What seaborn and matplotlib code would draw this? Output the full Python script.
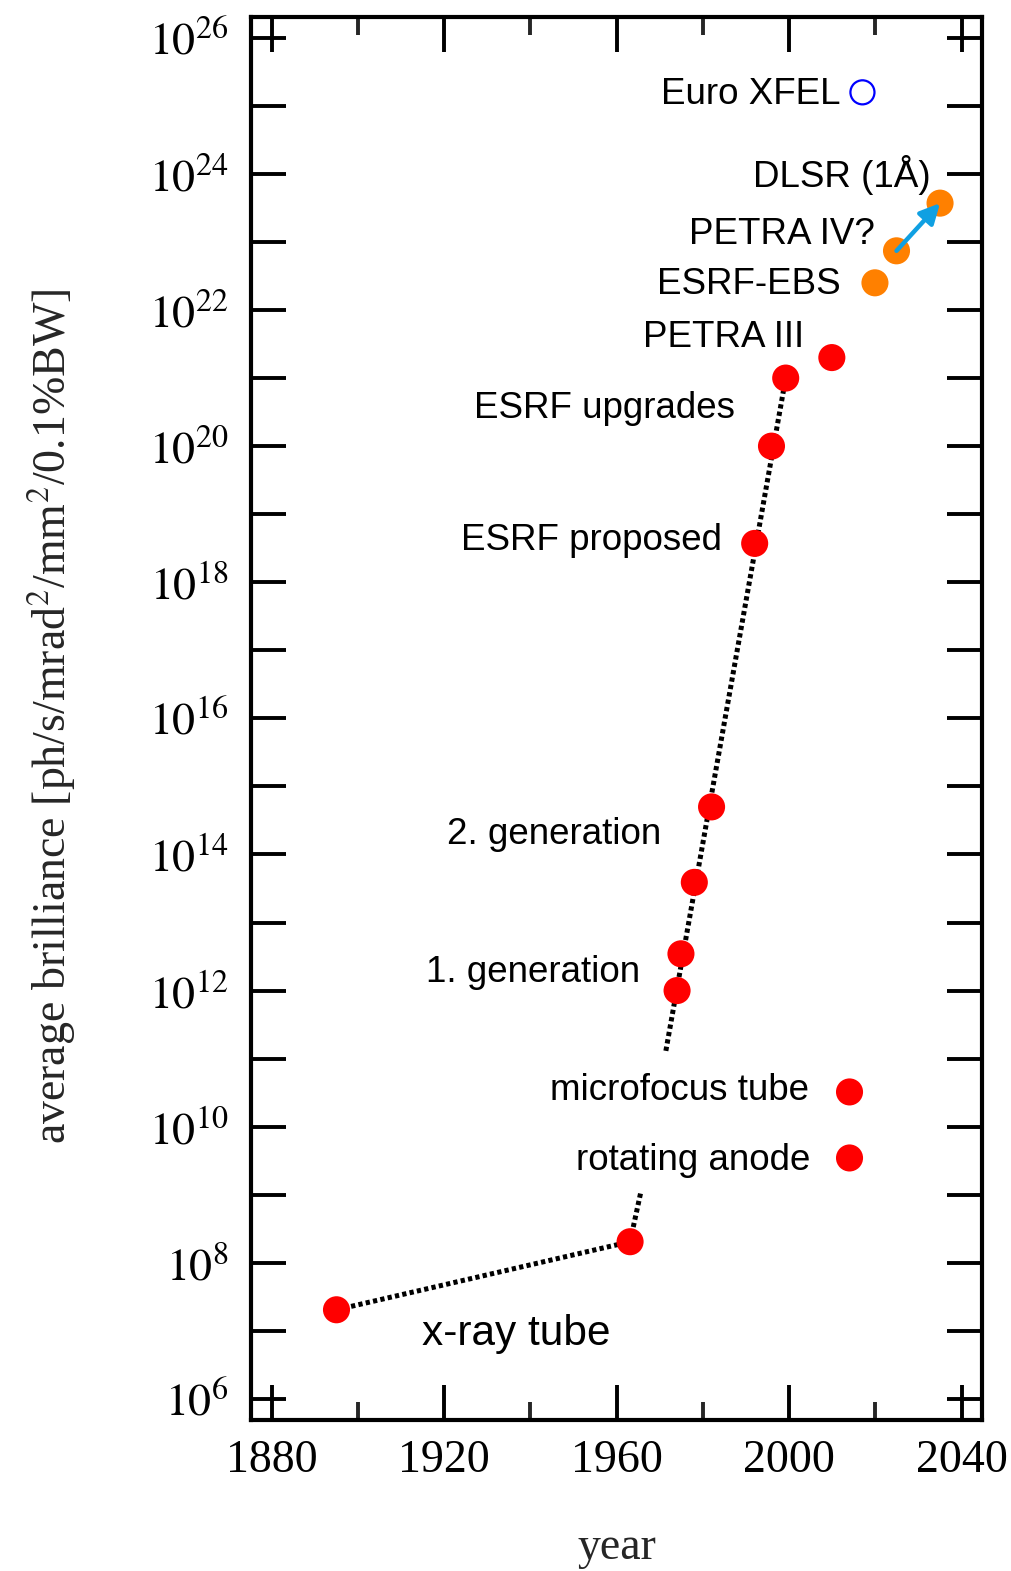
import numpy as np
import pandas as pd
import matplotlib
matplotlib.use("Agg")
import matplotlib.pyplot as plt
import matplotlib.ticker as mticker
import seaborn as sns

# ---------------- data ----------------
point_year = [1895.0, 1963.1, 1974.0, 1974.9, 1978.0, 1982.0, 1992.0, 1995.9,
              1999.2, 2009.9, 2014.0, 2014.0, 2019.9, 2024.9, 2035.0, 2017.0]
point_brilliance = [2.04e7, 2.04e8, 1.0e12, 3.47e12, 3.89e13, 5.0e14, 3.72e18, 1.0e20,
                    1.0e21, 2.0e21, 3.24e10, 3.47e9, 2.51e22, 7.41e22, 3.72e23, 1.58e25]
point_kind = ["existing"] * 12 + ["future"] * 3 + ["xfel"]

tube_line_year = [1895.0, 1963.1]
tube_line_brilliance = [2.04e7, 2.04e8]
anode_line_year = [1963.1, 1965.6]
anode_line_brilliance = [2.04e8, 1.1e9]
sync_line_year = [1971.4, 1999.2]
sync_line_brilliance = [1.3e11, 1.0e21]

arrow_from = (2024.9, 7.41e22)
arrow_to = (2035.0, 3.72e23)

label_text = ["Euro XFEL", "DLSR (1Å)", "PETRA IV?", "ESRF-EBS", "PETRA III",
              "ESRF upgrades", "ESRF proposed", "2. generation", "1. generation",
              "microfocus tube", "rotating anode"]
label_year = [2011.9, 2032.8, 2019.8, 2011.9, 2003.5, 1987.5, 1984.5, 1970.3,
              1965.4, 2004.5, 2004.9]
label_brilliance = [10**25.16, 10**23.98, 10**23.11, 10**22.38, 10**21.59, 10**20.56,
                    10**18.61, 10**14.29, 10**12.27, 10**10.53, 10**9.51]

xray_label = "x-ray tube"
xray_label_pos = (1936.8, 10**6.96)

x_major = [1880, 1920, 1960, 2000, 2040]
x_minor = [1900, 1940, 1980, 2020]
y_exponents = list(range(6, 27))

# ---------------- style ----------------
sns.set_style("white")
plt.rcParams["font.family"] = ["Liberation Sans", "DejaVu Sans"]
plt.rcParams["mathtext.fontset"] = "stix"

fig = plt.figure(figsize=(10.12, 15.71), dpi=100)
ax = fig.add_axes([250.7 / 1012, 1 - 1420 / 1571, (982.3 - 250.7) / 1012, (1420 - 16.7) / 1571])

df = pd.DataFrame({"year": point_year, "brilliance": point_brilliance, "kind": point_kind})

lw_dot = 3.6
for xs, ys in [(tube_line_year, tube_line_brilliance),
               (anode_line_year, anode_line_brilliance),
               (sync_line_year, sync_line_brilliance)]:
    ax.plot(xs, ys, color="black", lw=lw_dot, linestyle=(0, (0.85, 0.65)),
            dash_capstyle="butt", zorder=2)

solid = df[df["kind"] != "xfel"]
sns.scatterplot(data=solid, x="year", y="brilliance", hue="kind",
                palette={"existing": "#ff0000", "future": "#ff8000"},
                s=380, linewidth=0, legend=False, ax=ax, zorder=3)
sns.scatterplot(data=df[df["kind"] == "xfel"], x="year", y="brilliance",
                s=300, facecolor="none", edgecolor="#0000ff", linewidth=1.6,
                legend=False, ax=ax, zorder=3)

ax.annotate("", xy=arrow_to, xytext=arrow_from,
            arrowprops=dict(arrowstyle="-|>", color="#10a0e2", lw=3.2,
                            mutation_scale=30, shrinkA=0, shrinkB=0),
            zorder=5)

for t, x, y in zip(label_text, label_year, label_brilliance):
    ax.text(x, y, t, ha="right", va="center", fontsize=26.5, color="black")
ax.text(xray_label_pos[0], xray_label_pos[1], xray_label, ha="center", va="center",
        fontsize=30.5, color="black")

ax.set_yscale("log")
ax.set_xlim(1875.1, 2044.8)
ax.set_ylim(10**5.69, 10**26.31)

ax.xaxis.set_major_locator(mticker.FixedLocator(x_major))
ax.xaxis.set_minor_locator(mticker.FixedLocator(x_minor))
ax.xaxis.set_major_formatter(mticker.FixedFormatter([str(v) for v in x_major]))
ax.yaxis.set_major_locator(mticker.FixedLocator([10.0**e for e in y_exponents]))
ax.yaxis.set_minor_locator(mticker.NullLocator())
ax.yaxis.set_major_formatter(mticker.FixedFormatter(
    [r"$10^{%d}$" % e if e % 2 == 0 else "" for e in y_exponents]))

ax.tick_params(axis="both", which="major", direction="in", length=25, width=2.8,
               top=True, right=True, left=True, bottom=True, colors="black")
ax.tick_params(axis="x", which="minor", direction="in", length=13, width=2.8,
               top=True, bottom=True)
ax.tick_params(axis="x", which="major", pad=14, labelsize=33)
ax.tick_params(axis="y", which="major", pad=16, labelsize=33)
for lab in ax.get_xticklabels():
    lab.set_family("Liberation Serif")

for sp in ax.spines.values():
    sp.set_linewidth(3.0)
    sp.set_color("black")

ax.set_xlabel("year", fontsize=33, family="Liberation Serif")
ax.set_ylabel(r"average brilliance [ph/s/mrad$^2$/mm$^2$/0.1%BW]", fontsize=33,
              family="Liberation Serif")
ax.xaxis.set_label_coords(0.5007, -0.0912)
ax.xaxis.label.set_verticalalignment("center")
ax.yaxis.set_label_coords(-0.2716, 0.501)
ax.yaxis.label.set_verticalalignment("center")
ax.yaxis.label.set_horizontalalignment("center")

fig.savefig("out.png", dpi=100)
